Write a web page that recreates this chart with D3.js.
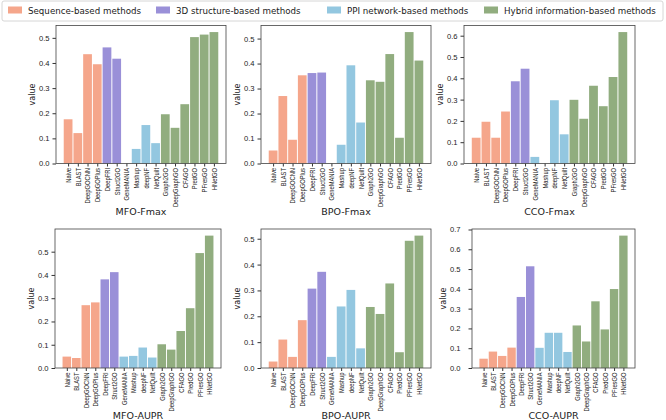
<!DOCTYPE html>
<html>
<head>
<meta charset="utf-8">
<script src="https://cdn.jsdelivr.net/npm/d3@7"></script>
<style>
  body { margin: 0; background: #fff; }
  svg { font-family: "DejaVu Sans", sans-serif; }
</style>
</head>
<body>
<svg id="chart" width="666" height="420"></svg>
<script>
// method names, in drawing order
var methods = ["Naive", "BLAST", "DeepGOCNN", "DeepGOPlus", "DeepFRI", "Struct2GO",
  "GeneMANIA", "Mashup", "deepNF", "NetQuilt", "Graph2GO", "DeepGraphGO",
  "CFAGO", "PredGO", "PFresGO", "HNetGO"];
// group of each method (index into groupNames)
var methodGroup = [0, 0, 0, 0, 1, 1, 2, 2, 2, 2, 3, 3, 3, 3, 3, 3];
var groupNames = ["Sequence-based methods", "3D structure-based methods",
  "PPI network-based methods", "Hybrid information-based methods"];
var groupColors = ["#f5a68b", "#9a90d8", "#93c7e0", "#91ad7f"];

// scores
var mfoFmax = [0.176, 0.121, 0.435, 0.395, 0.462, 0.417, 0, 0.058, 0.153, 0.081, 0.196, 0.142, 0.236, 0.503, 0.513, 0.523];
var bpoFmax = [0.052, 0.270, 0.095, 0.353, 0.362, 0.364, 0, 0.075, 0.393, 0.164, 0.333, 0.327, 0.438, 0.103, 0.526, 0.412];
var ccoFmax = [0.121, 0.196, 0.121, 0.244, 0.386, 0.445, 0.031, 0, 0.297, 0.137, 0.299, 0.210, 0.365, 0.269, 0.406, 0.617];
var mfoAupr = [0.049, 0.043, 0.270, 0.282, 0.381, 0.412, 0.049, 0.052, 0.088, 0.045, 0.102, 0.079, 0.159, 0.257, 0.494, 0.569];
var bpoAupr = [0.025, 0.110, 0.043, 0.185, 0.307, 0.372, 0.043, 0.238, 0.302, 0.076, 0.236, 0.209, 0.327, 0.061, 0.492, 0.512];
var ccoAupr = [0.047, 0.083, 0.061, 0.103, 0.359, 0.514, 0.102, 0.178, 0.178, 0.081, 0.215, 0.134, 0.337, 0.195, 0.399, 0.669];

// panel boxes; lpad = extra gap between frame and tick labels
var panels = [
  {title: "MFO-Fmax", values: mfoFmax, x0: 56,  x1: 226, y0: 25.5, y1: 163.5, lpad: 0},
  {title: "BPO-Fmax", values: bpoFmax, x0: 261, x1: 431, y0: 25.5, y1: 163.5, lpad: 0},
  {title: "CCO-Fmax", values: ccoFmax, x0: 464, x1: 635, y0: 25.5, y1: 163.5, lpad: 0},
  {title: "MFO-AUPR", values: mfoAupr, x0: 55,  x1: 221, y0: 229, y1: 368, lpad: 0},
  {title: "BPO-AUPR", values: bpoAupr, x0: 261, x1: 431, y0: 229, y1: 368, lpad: 0},
  {title: "CCO-AUPR", values: ccoAupr, x0: 472, x1: 635, y0: 229, y1: 368, lpad: 5}
];

var svg = d3.select("#chart");
var barW = 0.9;
var n = methods.length;

panels.forEach(function(p) {
  var g = svg.append("g");
  // matplotlib style auto margins on both axes
  var pad = (n - 1 + barW) * 0.05;
  var x = d3.scaleLinear()
      .domain([-barW / 2 - pad, n - 1 + barW / 2 + pad])
      .range([p.x0, p.x1]);
  var ymax = d3.max(p.values) * 1.05;
  var y = d3.scaleLinear()
      .domain([0, ymax])
      .range([p.y1, p.y0]);

  g.selectAll("rect.bar")
    .data(p.values)
    .enter().append("rect")
      .attr("class", "bar")
      .attr("x", function(d, i) { return x(i - barW / 2); })
      .attr("width", function() { return x(barW) - x(0); })
      .attr("y", function(d) { return y(d); })
      .attr("height", function(d) { return y(0) - y(d); })
      .style("fill", function(d, i) { return groupColors[methodGroup[i]]; });

  // y axis, ticks every 0.1
  var yt = d3.range(0, Math.floor(ymax * 10 + 1e-9) + 1).map(function(k) { return k / 10; });
  var yAxis = d3.axisLeft(y).tickValues(yt).tickSize(3.5).tickPadding(3 + p.lpad)
      .tickFormat(d3.format(".1f"));
  var ya = g.append("g")
      .attr("transform", "translate(" + p.x0 + ",0)")
      .call(yAxis);
  ya.select(".domain").remove();
  ya.selectAll("text").style("font-size", "7.6px").style("fill", "#222");
  ya.selectAll("line").style("stroke", "#333");

  // x axis with rotated method names
  var xAxis = d3.axisBottom(x).tickValues(d3.range(n))
      .tickFormat(function(i) { return methods[i]; })
      .tickSize(3);
  var xa = g.append("g")
      .attr("transform", "translate(0," + p.y1 + ")")
      .call(xAxis);
  xa.select(".domain").remove();
  xa.selectAll("line").style("stroke", "#333");
  xa.selectAll("text")
      .attr("y", 0).attr("x", 0).attr("dy", "0.35em")
      .attr("transform", "translate(0,4.5) rotate(-90) scale(1,1.2)")
      .style("text-anchor", "end")
      .style("font-size", "5.8px")
      .style("fill", "#222");

  // frame
  g.append("rect")
      .attr("x", p.x0).attr("y", p.y0)
      .attr("width", p.x1 - p.x0).attr("height", p.y1 - p.y0)
      .style("fill", "none").style("stroke", "#444").style("stroke-width", 0.8);

  g.append("text")
      .attr("x", (p.x0 + p.x1) / 2)
      .attr("y", p.y1 + 51)
      .attr("text-anchor", "middle")
      .style("font-size", "9.5px")
      .style("fill", "#222")
      .text(p.title);

  g.append("text")
      .attr("transform", "translate(" + (p.x0 - 21 - p.lpad) + "," + ((p.y0 + p.y1) / 2) + ") rotate(-90)")
      .attr("text-anchor", "middle")
      .style("font-size", "8px")
      .style("fill", "#222")
      .text("value");
});

// legend across the top
var legend = svg.append("g");
legend.append("rect")
    .attr("x", 2).attr("y", 1).attr("width", 661).attr("height", 20).attr("rx", 2)
    .style("fill", "#fff").style("stroke", "#ccc").style("stroke-width", 0.8);
var legendX = [8, 156, 327, 484];
groupNames.forEach(function(name, i) {
  legend.append("rect")
      .attr("x", legendX[i]).attr("y", 6.5).attr("width", 14).attr("height", 7)
      .style("fill", groupColors[i]);
  legend.append("text")
      .attr("x", legendX[i] + 20).attr("y", 13.5)
      .style("font-size", "8.7px")
      .style("fill", "#222")
      .text(name);
});
</script>
</body>
</html>
